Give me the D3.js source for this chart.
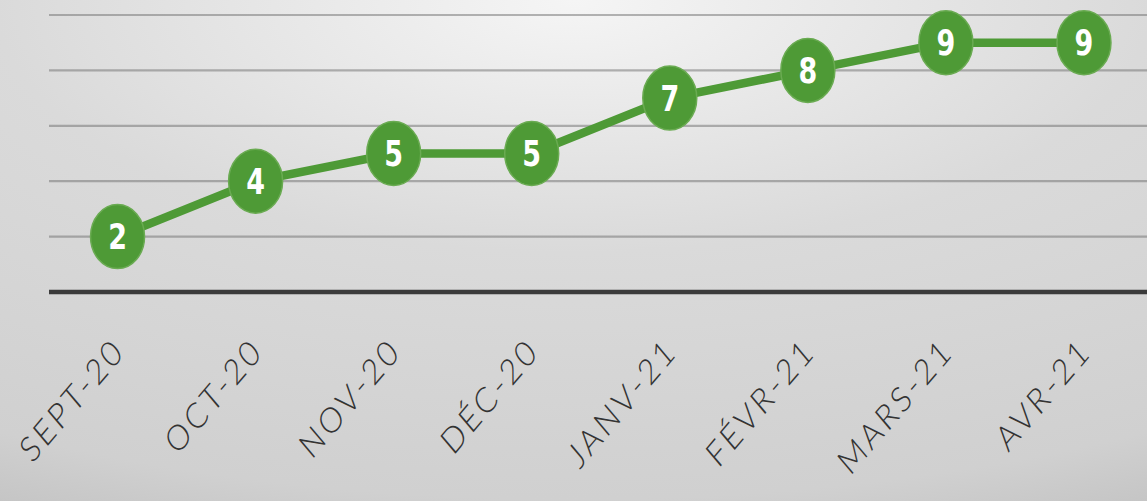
<!DOCTYPE html>
<html><head><meta charset="utf-8">
<script src="https://cdn.jsdelivr.net/npm/d3@7"></script>
<style>html,body{margin:0;padding:0;overflow:hidden;}svg{display:block;}</style>
</head><body>
<script>
const categories = ["SEPT-20","OCT-20","NOV-20","DÉC-20","JANV-21","FÉVR-21","MARS-21","AVR-21"];
const values = [2,4,5,5,7,8,9,9];
const gridTicks = [2,4,6,8,10];

const W = 1147, H = 501, sy = 1.18;
const svg = d3.select("body").append("svg").attr("width", W).attr("height", H);
const defs = svg.append("defs");
const rg = defs.append("radialGradient").attr("id","bg").attr("cx","50%").attr("cy","0%").attr("r","112%")
  .attr("fx","50%").attr("fy","0%");
rg.append("stop").attr("offset","0%").attr("stop-color","#f5f5f5");
rg.append("stop").attr("offset","45%").attr("stop-color","#dadada");
rg.append("stop").attr("offset","89%").attr("stop-color","#d0d0d0");
rg.append("stop").attr("offset","100%").attr("stop-color","#c5c5c5");
svg.append("rect").attr("width",W).attr("height",H).attr("fill","url(#bg)");

const x = d3.scaleBand().domain(categories).range([48.5, 1153]).padding(0);
const cx = d => x(d) + x.bandwidth()/2;
const y = d3.scaleLinear().domain([0,10]).range([292, 15]);

// gridlines
svg.append("g").selectAll("line").data(gridTicks).join("line")
  .attr("x1", 49).attr("x2", W).attr("y1", d => y(d)).attr("y2", d => y(d))
  .attr("stroke", "rgba(110,110,110,0.5)").attr("stroke-width", 2.2);

// x axis
const xAxis = svg.append("g").attr("transform", `translate(0,${y(0)})`)
  .call(d3.axisBottom(x).tickSize(0).tickSizeOuter(0));
xAxis.select(".domain").remove();
xAxis.append("line").attr("x1",49).attr("x2",W).attr("y1",0).attr("y2",0)
  .attr("stroke","#3b3b3b").attr("stroke-width",4.5);
xAxis.selectAll(".tick text")
  .attr("font-family","Lato, 'Open Sans', sans-serif").attr("font-weight",300)
  .attr("font-size",30).attr("letter-spacing","3px").attr("fill","#333333")
  .attr("text-anchor","end").attr("x",0).attr("y",0).attr("dy",0)
  .attr("transform", `translate(9,61) scale(1,${sy}) rotate(-45)`);

// line
const pts = categories.map((c,i)=>({c, v: values[i]}));
svg.append("path").datum(pts)
  .attr("d", d3.line().x(d=>cx(d.c)).y(d=>y(d.v)))
  .attr("fill","none").attr("stroke","#4e9a36").attr("stroke-width",8.5);

const mk = svg.append("g").selectAll("g").data(pts).join("g")
  .attr("transform", d=>`translate(${cx(d.c)},${y(d.v)})`);
mk.append("ellipse").attr("rx",27).attr("ry",32).attr("fill","#4e9a36")
  .attr("stroke","#6aab52").attr("stroke-width",1.5);
mk.append("text").text(d=>d.v)
  .attr("transform",`scale(1,${sy})`)
  .attr("text-anchor","middle").attr("dy","0.36em")
  .attr("font-family","'DejaVu Sans Condensed','DejaVu Sans',sans-serif").attr("font-weight","bold")
  .attr("font-size",30).attr("fill","#ffffff");
</script>
</body></html>
